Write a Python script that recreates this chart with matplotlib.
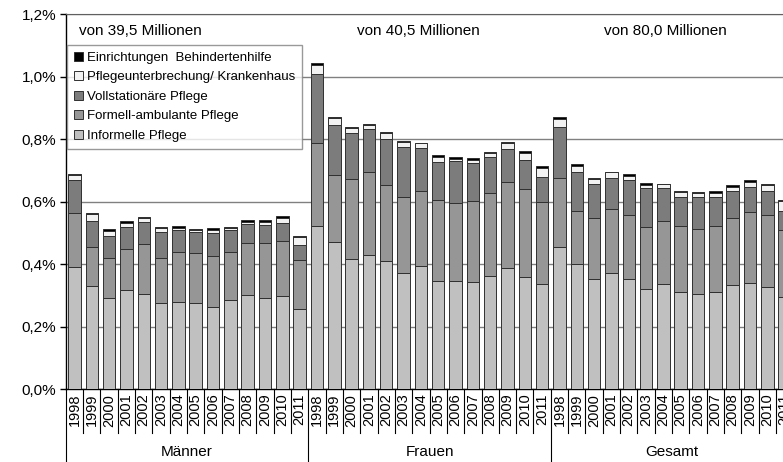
import matplotlib
matplotlib.use("Agg")
import matplotlib.pyplot as plt
import matplotlib.transforms as mtransforms
from matplotlib.patches import Patch
import numpy as np

plt.rcParams['font.family'] = ['Liberation Sans', 'DejaVu Sans']

years = [str(y) for y in range(1998, 2012)]
groups = ['Männer', 'Frauen', 'Gesamt']
group_notes = ['von 39,5 Millionen', 'von 40,5 Millionen', 'von 80,0 Millionen']

# values in percent, each segment (not cumulative), Männer | Frauen | Gesamt
informell = [0.390, 0.330, 0.291, 0.316, 0.304, 0.275, 0.278, 0.275, 0.262, 0.284, 0.300, 0.291, 0.298, 0.256,
             0.521, 0.471, 0.416, 0.428, 0.411, 0.373, 0.394, 0.346, 0.346, 0.342, 0.361, 0.387, 0.358, 0.338,
             0.456, 0.400, 0.352, 0.371, 0.354, 0.321, 0.336, 0.311, 0.304, 0.312, 0.332, 0.340, 0.327, 0.295]
formell = [0.173, 0.124, 0.128, 0.132, 0.160, 0.144, 0.162, 0.160, 0.164, 0.156, 0.166, 0.176, 0.177, 0.157,
           0.268, 0.215, 0.256, 0.266, 0.241, 0.243, 0.239, 0.259, 0.249, 0.261, 0.266, 0.276, 0.282, 0.262,
           0.220, 0.171, 0.194, 0.205, 0.204, 0.198, 0.201, 0.210, 0.208, 0.209, 0.216, 0.226, 0.231, 0.213]
vollstationaer = [0.106, 0.084, 0.071, 0.070, 0.070, 0.085, 0.069, 0.067, 0.073, 0.069, 0.062, 0.057, 0.058, 0.048,
                  0.219, 0.160, 0.147, 0.138, 0.148, 0.160, 0.138, 0.121, 0.134, 0.120, 0.115, 0.106, 0.093, 0.078,
                  0.163, 0.124, 0.111, 0.101, 0.111, 0.124, 0.106, 0.095, 0.102, 0.093, 0.085, 0.082, 0.077, 0.062]
unterbrechung = [0.016, 0.023, 0.017, 0.015, 0.012, 0.012, 0.008, 0.007, 0.011, 0.007, 0.008, 0.012, 0.016, 0.025,
                 0.030, 0.020, 0.016, 0.014, 0.018, 0.015, 0.016, 0.018, 0.008, 0.011, 0.015, 0.019, 0.024, 0.031,
                 0.026, 0.019, 0.016, 0.017, 0.014, 0.011, 0.013, 0.014, 0.012, 0.015, 0.015, 0.016, 0.019, 0.033]
behindertenhilfe = [0.004, 0.004, 0.004, 0.004, 0.004, 0.004, 0.004, 0.004, 0.004, 0.004, 0.004, 0.004, 0.004, 0.004,
                    0.005, 0.004, 0.004, 0.001, 0.004, 0.004, 0.001, 0.004, 0.005, 0.005, 0.003, 0.004, 0.004, 0.004,
                    0.005, 0.006, 0.004, 0.001, 0.005, 0.005, 0.001, 0.004, 0.004, 0.004, 0.004, 0.004, 0.003, 0.003]

series = [
    (informell, '#c0c0c0', 'Informelle Pflege'),
    (formell, '#969696', 'Formell-ambulante Pflege'),
    (vollstationaer, '#7c7c7c', 'Vollstationäre Pflege'),
    (unterbrechung, '#f2f2f2', 'Pflegeunterbrechung/ Krankenhaus'),
    (behindertenhilfe, '#000000', 'Einrichtungen  Behindertenhilfe'),
]

fig = plt.figure(figsize=(7.83, 4.62), dpi=100)
ax = fig.add_axes([65.8 / 783, 72.8 / 462, 727.5 / 783, 375.2 / 462])

x = np.arange(len(informell))
bottom = np.zeros(len(x))
for vals, col, lab in series:
    ax.bar(x, vals, 0.72, bottom=bottom, color=col, edgecolor='#303030', linewidth=0.7, zorder=3)
    bottom += np.array(vals)

ax.set_xlim(-0.5, len(x) - 0.5)
ax.set_ylim(0, 1.2)
ax.set_yticks(np.arange(0, 1.21, 0.2))
ax.set_yticklabels([f"{v:.1f}%".replace('.', ',') for v in np.arange(0, 1.21, 0.2)], fontsize=11)
ax.yaxis.grid(True, color='#808080', linewidth=1, zorder=0)
ax.tick_params(axis='y', direction='out', length=4, width=1, pad=3)
ax.set_xticks([])
for s in ['right']:
    ax.spines[s].set_visible(False)
ax.spines['top'].set_color('#606060')
ax.spines['left'].set_linewidth(1)
ax.spines['bottom'].set_linewidth(1)

# two-level category axis below the plot
trans = mtransforms.blended_transform_factory(ax.transData, ax.transAxes)
n = len(years)
for i in range(len(x)):
    ax.text(i, -0.012, years[i % n], rotation=90, ha='center', va='top', fontsize=10.5,
            transform=trans, clip_on=False)
for i in range(len(x) + 1):
    if i % n == 0:
        ax.plot([i - 0.5, i - 0.5], [0, -0.194], color='black', lw=0.8, transform=trans, clip_on=False)
    else:
        ax.plot([i - 0.5, i - 0.5], [0, -0.117], color='black', lw=0.8, transform=trans, clip_on=False)
for g, name in enumerate(groups):
    ax.text(g * n + (n - 1) / 2, -0.167, name, ha='center', va='center', fontsize=11,
            transform=trans, clip_on=False)

# notes at the top of each group
note_x = [3.78, 19.83, 34.1]
for nx, note in zip(note_x, group_notes):
    ax.text(nx, 0.956, note, ha='center', va='center', fontsize=11, transform=trans)

handles = [Patch(facecolor=col, edgecolor='#303030', linewidth=0.7, label=lab) for vals, col, lab in series][::-1]
leg = ax.legend(handles=handles, loc='upper left', bbox_to_anchor=(0.002, 0.917), fontsize=9.5,
                frameon=True, fancybox=False, handlelength=0.7, handleheight=0.7, handletextpad=0.3,
                labelspacing=0.55, borderpad=0.5, borderaxespad=0)
leg.get_frame().set_edgecolor('#808080')
leg.get_frame().set_linewidth(1)
leg.set_zorder(5)

fig.savefig('out.png', dpi=100)
